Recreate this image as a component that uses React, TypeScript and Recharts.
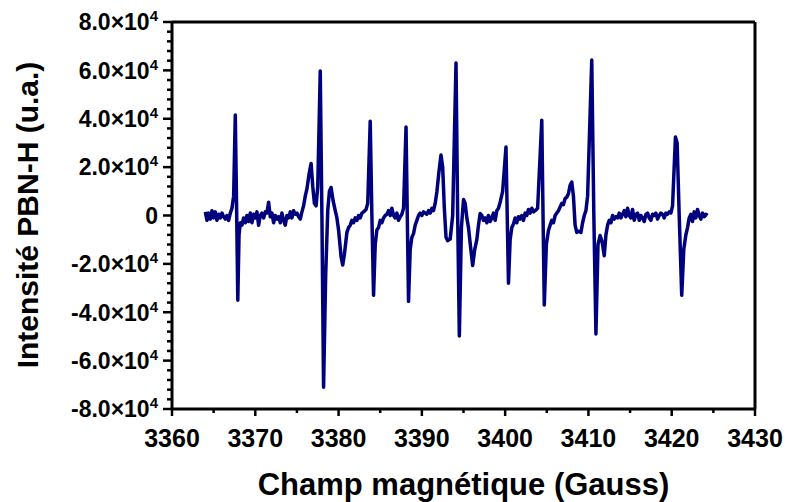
import React from 'react';
import { LineChart, Line, XAxis, YAxis, ReferenceLine } from 'recharts';

const fields = [
  3364.0, 3364.2, 3364.4, 3364.6, 3364.8, 3365.0, 3365.2, 3365.4, 3365.6, 3365.8,
  3366.0, 3366.2, 3366.4, 3366.6, 3366.8, 3367.0, 3367.2, 3367.4,
  3367.6, 3367.75, 3367.9, 3368.05, 3368.2,
  3368.4, 3368.6, 3368.8, 3369.0, 3369.2, 3369.4, 3369.6, 3369.8, 3370.0, 3370.2,
  3370.4, 3370.6, 3370.8, 3371.0, 3371.2, 3371.4, 3371.6, 3371.8, 3372.0, 3372.2,
  3372.4, 3372.6, 3372.8, 3373.0, 3373.2, 3373.4, 3373.6, 3373.8, 3374.0, 3374.2,
  3374.4, 3374.6, 3374.8, 3375.0, 3375.2, 3375.4, 3375.6, 3375.8, 3376.0, 3376.2,
  3376.45, 3376.7, 3376.9, 3377.1, 3377.3, 3377.5,
  3377.8, 3378.0, 3378.2, 3378.45, 3378.7, 3378.9, 3379.1, 3379.35, 3379.6, 3379.8,
  3380.0, 3380.3, 3380.5, 3380.7, 3381.0, 3381.2, 3381.4, 3381.6, 3381.8, 3382.0,
  3382.2, 3382.4, 3382.6, 3382.8, 3383.0, 3383.3, 3383.5,
  3383.8, 3384.0, 3384.2, 3384.4, 3384.6, 3384.8, 3385.0, 3385.2, 3385.4, 3385.6,
  3385.8, 3386.0, 3386.2, 3386.4, 3386.6, 3386.8, 3387.0, 3387.2, 3387.4, 3387.6, 3387.8,
  3388.1, 3388.25, 3388.4, 3388.6, 3388.8, 3389.0, 3389.2, 3389.4, 3389.6, 3389.8,
  3390.0, 3390.2, 3390.4, 3390.6, 3390.8, 3391.0, 3391.2, 3391.4, 3391.6, 3391.8,
  3392.05, 3392.3, 3392.5, 3392.7, 3392.9, 3393.1, 3393.4, 3393.7,
  3394.1, 3394.3, 3394.5, 3394.75, 3395.0, 3395.2, 3395.4, 3395.6, 3395.85, 3396.1,
  3396.35, 3396.6, 3396.8, 3397.0, 3397.2, 3397.4, 3397.6, 3397.8, 3398.0, 3398.2,
  3398.4, 3398.6, 3398.8, 3399.0, 3399.2, 3399.4, 3399.7,
  3400.1, 3400.25, 3400.4, 3400.6, 3400.8, 3401.0, 3401.2, 3401.4, 3401.6, 3401.8,
  3402.0, 3402.2, 3402.4, 3402.6, 3402.8, 3403.0, 3403.2, 3403.4, 3403.6, 3403.9,
  3404.4, 3404.55, 3404.7, 3404.95, 3405.2, 3405.4, 3405.6, 3405.8, 3406.0, 3406.2,
  3406.4, 3406.6, 3406.8, 3407.0, 3407.2, 3407.4, 3407.6, 3407.8, 3408.0, 3408.2,
  3408.4, 3408.6, 3408.8, 3409.1, 3409.3, 3409.5, 3409.7, 3409.9,
  3410.4, 3410.65, 3410.9, 3411.15, 3411.4, 3411.65, 3411.9, 3412.1, 3412.3, 3412.5,
  3412.7, 3412.9, 3413.1, 3413.3, 3413.5, 3413.7, 3413.9, 3414.1, 3414.3, 3414.5,
  3414.7, 3414.9, 3415.1, 3415.3, 3415.5, 3415.7, 3415.9, 3416.1, 3416.3, 3416.5,
  3416.7, 3416.9, 3417.1, 3417.3, 3417.5, 3417.7, 3417.9, 3418.1, 3418.3, 3418.5,
  3418.7, 3418.9, 3419.1, 3419.3, 3419.5, 3419.7, 3419.9, 3420.1,
  3420.45, 3420.65, 3420.9, 3421.2, 3421.45, 3421.7, 3421.9, 3422.1, 3422.3, 3422.5,
  3422.7, 3422.9, 3423.1, 3423.3, 3423.5, 3423.7, 3423.9, 3424.1, 3424.3,
];

const intensity = [
  1.5, -2, 1, -1.5, 2, -1, 1.5, -2, 0.5, -1,
  1, -0.5, -1.5, 0, -2, 1, 3, 8,
  41.5, 5, -35, -8, -3,
  -4, -1, -3, 0, -2.5, 1, -3, 0.5, -1, 1.5,
  -4, 0, 1, -1, 1.5, 1, 5.5, -0.5, 1, -3,
  0, -1.5, -0.5, -3, 1, -2, -4, 0, -1, 1.5,
  -1, 2, 0.5, 1, -0.5, -1.5, 1.5, 4, 8, 11,
  17, 21.5, 12, 5, 4, 12,
  59.7, 0, -71, -25, 2, 10, 11.6, 6, 2, -1,
  -6, -17, -20.5, -16, -7, -5, -4, -2, -3, -1,
  -2, 0, -1, 1, 1.5, 2.5, 5,
  39, 0, -33, -12, -6, -5, -2, -3, -1, 0,
  0.5, 2, 0, 3, 0, -1, 1, -2, -0.5, 0.5, 3,
  36.6, 0, -35.5, -14, -9, -7.5, -4, -2, 0, 1,
  0, 1.5, 1, 0.5, 2, 1, 3, 2, 5, 9.7,
  18, 25, 20, 3, -9, -10.4, -9.7, 0,
  63, 0, -49.8, -5, 6.6, 5, -1, -5, -13, -20.7,
  -14, -10, -4, 0.8, 0, -2, -1, -3, 0, -2.5,
  -1, 1, -2, 2, 3, 5.5, 10,
  28.3, 0, -28, -10, -5, -3.5, -1, -3, -0.5, -1.5,
  0, -2, 1, 0, 2.5, 1, 3, 1.5, 2, 3,
  39.4, 0, -37, -12, -6.2, -4, -2, -3, 0, 1,
  2, 3.5, 5, 4.5, 7, 7.6, 9, 12.5, 13.8, 8,
  -4, -7, -6.5, -7, -3, 0, 2, 8,
  64.3, 0, -49, -12, -8.3, -11, -16.6, -8, -4, -2,
  -3, 0, -1.5, -0.5, -1, 1, -1, 0.5, 2, -0.5,
  3, 0, -1, 2.5, -2, 0.5, 1, -2, 0, -1,
  -2.5, 0.5, 1, -1, -2, 0.5, 0, 1, -1.5, 0,
  1, 0.5, -1, 1, 0.5, 1.5, 1, 4,
  32.5, 30, 0, -33, -14, -8, -5, -1, 0.5, -2.5,
  1.5, -1, 2.5, 0, -1.5, 1, -0.5, 0.5, 0,
];

const xTicks = [3360, 3365, 3370, 3375, 3380, 3385, 3390, 3395, 3400, 3405, 3410, 3415, 3420, 3425, 3430];
const yMajorTicks = [-80, -60, -40, -20, 0, 20, 40, 60, 80];
const Y_MINOR_PER_MAJOR = 5;

const yTicks: number[] = [];
yMajorTicks.forEach((t, i) => {
  yTicks.push(t);
  if (i < yMajorTicks.length - 1) {
    const step = (yMajorTicks[i + 1] - t) / Y_MINOR_PER_MAJOR;
    for (let k = 1; k < Y_MINOR_PER_MAJOR; k++) yTicks.push(t + k * step);
  }
});

const data = fields.map((f, i) => ({ field: f, intensity: intensity[i] }));

const FONT = '"Liberation Sans", Arial, sans-serif';
const X_TICK_SIZE = 7;
const X_TICK_MARGIN = 13;
const Y_TICK_SIZE = 9;
const Y_TICK_MARGIN = 5;

const XTick = (props: any) => {
  const { x, y, payload } = props;
  const v = payload.value;
  const major = v % 10 === 0;
  const axisY = y - X_TICK_SIZE - X_TICK_MARGIN;
  return (
    <g>
      <line x1={x} x2={x} y1={axisY} y2={axisY + (major ? X_TICK_SIZE : 4)} stroke="#000" strokeWidth={2.5} />
      {major && (
        <text x={x} y={y} dy="0.71em" textAnchor="middle" fontFamily={FONT} fontSize={25} fontWeight="bold" fill="#000">
          {v}
        </text>
      )}
    </g>
  );
};

const YTick = (props: any) => {
  const { x, y, payload } = props;
  const v = payload.value;
  const major = Math.abs(v % 20) < 1e-6;
  const axisX = x + Y_TICK_SIZE + Y_TICK_MARGIN;
  const mant = (v / 10).toFixed(1);
  return (
    <g>
      <line x1={axisX} x2={axisX - (major ? Y_TICK_SIZE : 5)} y1={y} y2={y} stroke="#000" strokeWidth={2.5} />
      {major && (
        <text x={x} y={y} dy="0.36em" textAnchor="end" fontFamily={FONT} fontSize={23} fontWeight="bold" fill="#000">
          {v === 0 ? '0' : mant + '×10'}
          {v !== 0 && (
            <tspan dy={-9} fontSize={15}>
              4
            </tspan>
          )}
        </text>
      )}
    </g>
  );
};

const YTitle = () => (
  <text
    x={38}
    y={215}
    transform="rotate(-90, 38, 215)"
    textAnchor="middle"
    fontFamily={FONT}
    fontSize={30}
    fontWeight="bold"
    fill="#000"
  >
    Intensité PBN-H (u.a.)
  </text>
);

export default function App() {
  return (
    <div style={{ position: 'absolute', left: 0, top: 0, background: '#fff' }}>
      <LineChart width={786} height={502} data={data} margin={{ top: 22, right: 31, bottom: 0, left: 0 }}>
        <XAxis
          dataKey="field"
          type="number"
          domain={[3360, 3430]}
          ticks={xTicks}
          interval={0}
          height={93}
          tickSize={X_TICK_SIZE}
          tickMargin={X_TICK_MARGIN}
          tickLine={false}
          tick={<XTick />}
          axisLine={{ stroke: '#000', strokeWidth: 3 }}
          label={{
            value: 'Champ magnétique (Gauss)',
            position: 'insideBottom',
            offset: 7,
            fontFamily: FONT,
            fontSize: 31,
            fontWeight: 'bold',
            fill: '#000',
          }}
        />
        <YAxis
          type="number"
          domain={[-80, 80]}
          ticks={yTicks}
          interval={0}
          width={172}
          tickSize={Y_TICK_SIZE}
          tickMargin={Y_TICK_MARGIN}
          tickLine={false}
          tick={<YTick />}
          axisLine={{ stroke: '#000', strokeWidth: 3 }}
          label={<YTitle />}
        />
        <ReferenceLine y={80} stroke="#000" strokeWidth={3} />
        <ReferenceLine x={3430} stroke="#000" strokeWidth={3} />
        <Line
          type="linear"
          dataKey="intensity"
          stroke="#00007f"
          strokeWidth={3.5}
          strokeLinejoin="round"
          dot={false}
          isAnimationActive={false}
        />
      </LineChart>
    </div>
  );
}
